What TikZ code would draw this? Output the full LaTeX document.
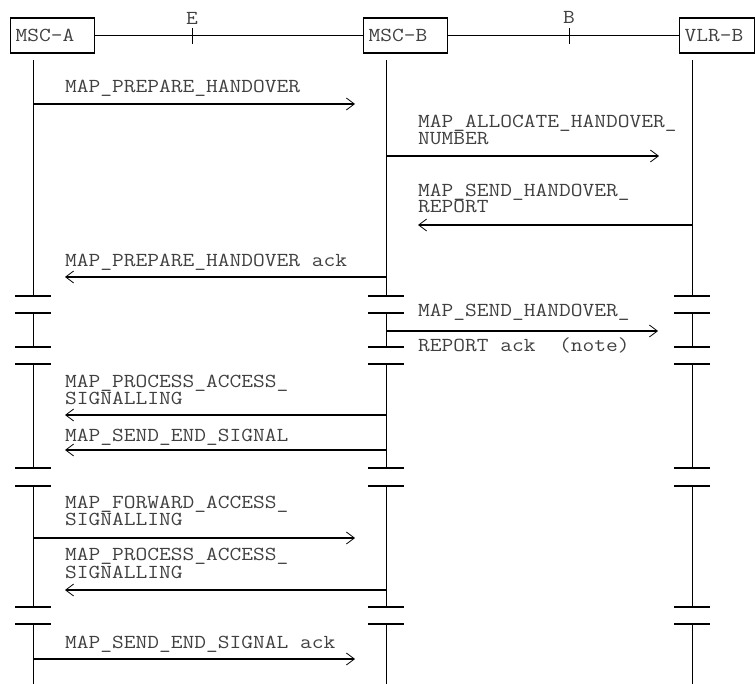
\documentclass[tikz,border=0pt]{standalone}
\usetikzlibrary{arrows.meta}
\newcommand\sq[1]{\scalebox{1}[0.87]{#1}}
\begin{document}
\begin{tikzpicture}[
  x=1pt,y=-1pt,
  lbl/.style={font=\fontsize{22.8}{24}\selectfont\ttfamily, text=black!75, inner sep=0pt, anchor=base west},
  ent/.style={draw, line width=1.3pt, minimum height=35pt, inner xsep=5pt, inner ysep=0pt, align=left, anchor=west, font=\fontsize{22.8}{24}\selectfont\ttfamily, text=black!75},
  life/.style={line width=1pt},
  brk/.style={line width=2.2pt},
  msg/.style={line width=2.2pt, -{Straight Barb[length=8pt,width=12pt,line width=0.8pt]}},
  link/.style={line width=0.9pt}
]
\useasboundingbox (0,0) rectangle (755,684);

% entities
\node[ent, text width=74pt] (mscA) at (10,35.5) {\sq{MSC-A}};
\node[ent, text width=74pt] (mscB) at (363,35.5) {\sq{MSC-B}};
\node[ent, text width=65pt] (vlrB) at (679,35.5) {\sq{VLR-B}};

% interfaces
\draw[link] (mscA.east) -- (mscB.west);
\draw[link] (mscB.east) -- (vlrB.west);
\coordinate (eT) at (192,28); \coordinate (eB) at (192,44);
\coordinate (bT) at (569,28); \coordinate (bB) at (569,44);
\draw[link] (eT) -- (eB);
\draw[link] (bT) -- (bB);
\node[lbl, anchor=base] (labE) at (192,25) {\sq{E}};
\node[lbl, anchor=base] (labB) at (569,24) {\sq{B}};

% lifelines with breaks
\foreach \x in {33,386,692}{
  \draw[life] (\x,60) -- (\x,296);
  \draw[life] (\x,313) -- (\x,347);
  \draw[life] (\x,364) -- (\x,468);
  \draw[life] (\x,486) -- (\x,607);
  \draw[life] (\x,624) -- (\x,684);
  \foreach \y in {296,313,347,364,468,486,607,624}
    \draw[brk] (\x-18,\y) -- (\x+18,\y);
}

% messages
\coordinate (m1s) at (33,104);  \coordinate (m1e) at (355,104);
\coordinate (m2s) at (386,156); \coordinate (m2e) at (659,156);
\coordinate (m3s) at (692,225); \coordinate (m3e) at (418,225);
\coordinate (m4s) at (386,277); \coordinate (m4e) at (65,277);
\coordinate (m5s) at (386,331); \coordinate (m5e) at (658,331);
\coordinate (m6s) at (386,415); \coordinate (m6e) at (65,415);
\coordinate (m7s) at (386,450); \coordinate (m7e) at (65,450);
\coordinate (m8s) at (33,538);  \coordinate (m8e) at (355,538);
\coordinate (m9s) at (386,590); \coordinate (m9e) at (65,590);
\coordinate (m10s) at (33,659); \coordinate (m10e) at (355,659);
\foreach \i in {1,...,10} \draw[msg] (m\i s) -- (m\i e);

% labels
\node[lbl] (t1) at (65,93) {\sq{MAP\_PREPARE\_HANDOVER}};
\node[lbl] (t2a) at (418,128) {\sq{MAP\_ALLOCATE\_HANDOVER\_}};
\node[lbl] (t2b) at (418,145) {\sq{NUMBER}};
\node[lbl] (t3a) at (418,197) {\sq{MAP\_SEND\_HANDOVER\_}};
\node[lbl] (t3b) at (418,213) {\sq{REPORT}};
\node[lbl] (t4) at (65,267) {\sq{MAP\_PREPARE\_HANDOVER ack}};
\node[lbl] (t5a) at (418,317) {\sq{MAP\_SEND\_HANDOVER\_}};
\node[lbl] (t5b) at (418,352) {\sq{REPORT ack\ \ (note)}};
\node[lbl] (t6a) at (65,388) {\sq{MAP\_PROCESS\_ACCESS\_}};
\node[lbl] (t6b) at (65,405) {\sq{SIGNALLING}};
\node[lbl] (t7) at (65,441) {\sq{MAP\_SEND\_END\_SIGNAL}};
\node[lbl] (t8a) at (65,508) {\sq{MAP\_FORWARD\_ACCESS\_}};
\node[lbl] (t8b) at (65,525) {\sq{SIGNALLING}};
\node[lbl] (t9a) at (65,560) {\sq{MAP\_PROCESS\_ACCESS\_}};
\node[lbl] (t9b) at (65,578) {\sq{SIGNALLING}};
\node[lbl] (t10) at (65,648) {\sq{MAP\_SEND\_END\_SIGNAL ack}};
\end{tikzpicture}
\end{document}
